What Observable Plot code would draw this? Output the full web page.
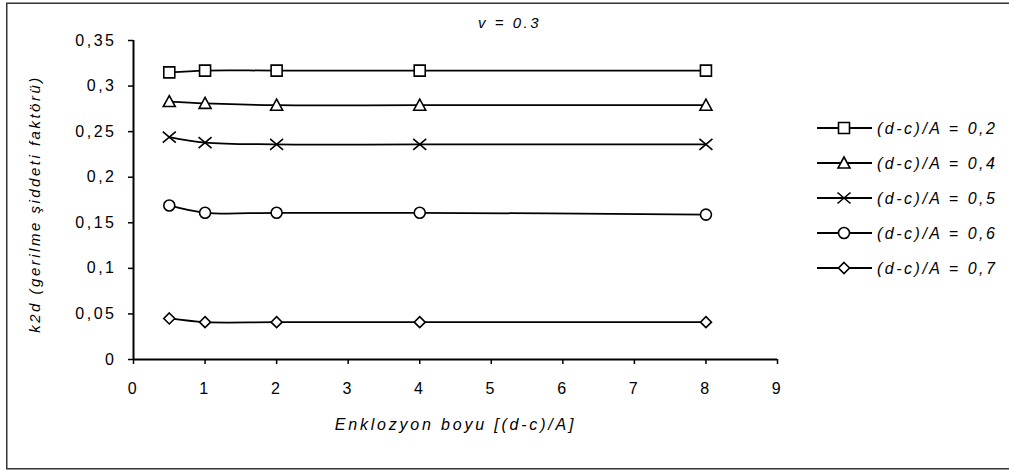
<!DOCTYPE html>
<html><head><meta charset="utf-8">
<script src="https://cdn.jsdelivr.net/npm/d3@7"></script>
<script src="https://cdn.jsdelivr.net/npm/@observablehq/plot@0.6"></script>
<style>
html,body{margin:0;padding:0;background:#fff;}
#chart{position:relative;width:1009px;height:470px;overflow:hidden;}
#chart svg text{font-family:"Liberation Sans",Arial,sans-serif;letter-spacing:2.5px;fill:#000;}
#chart svg text.wide{letter-spacing:2.8px;}
</style></head><body><div id="chart"></div>
<script>
// ---- data ----
const xValues = [0.5, 1, 2, 4, 8];
const seriesLabels = ["(d-c)/A = 0,2", "(d-c)/A = 0,4", "(d-c)/A = 0,5", "(d-c)/A = 0,6", "(d-c)/A = 0,7"];
const s02 = [0.315, 0.317, 0.317, 0.317, 0.317];
const s04 = [0.283, 0.281, 0.279, 0.279, 0.279];
const s05 = [0.244, 0.238, 0.236, 0.236, 0.236];
const s06 = [0.169, 0.161, 0.161, 0.161, 0.159];
const s07 = [0.045, 0.041, 0.041, 0.041, 0.041];
const xTicks = [0, 1, 2, 3, 4, 5, 6, 7, 8, 9];
const yTicks = [0, 0.05, 0.1, 0.15, 0.2, 0.25, 0.3, 0.35];
const titleText = "v = 0.3";
const xLabel = "Enklozyon boyu [(d-c)/A]";
const yLabel = "k2d (gerilme şiddeti faktörü)";

const seriesValues = [s02, s04, s05, s06, s07];
const rows = seriesValues.flatMap((vals, i) => vals.map((v, j) => ({series: seriesLabels[i], x: xValues[j], y: v})));

// ---- custom fixed-size marker shapes ----
const H = 5.5;
const symSquare = {draw(c){ c.moveTo(-H,-H); c.lineTo(H,-H); c.lineTo(H,H); c.lineTo(-H,H); c.closePath(); }};
const symTriangle = {draw(c){ c.moveTo(0,-6); c.lineTo(6,5); c.lineTo(-6,5); c.closePath(); }};
const symTimes = {draw(c){ c.moveTo(-6.5,-5.5); c.lineTo(6.5,5.5); c.moveTo(6.5,-5.5); c.lineTo(-6.5,5.5); }};
const symCircle = {draw(c){ c.moveTo(H,0); c.arc(0,0,H,0,2*Math.PI); c.closePath(); }};
const symDiamond = {draw(c){ c.moveTo(0,-5.5); c.lineTo(5.5,0); c.lineTo(0,5.5); c.lineTo(-5.5,0); c.closePath(); }};
const symbols = [symSquare, symTriangle, symTimes, symCircle, symDiamond];

const fmt = d => String(+d.toFixed(2)).replace(".", ",");

const chart = Plot.plot({
  width: 1009,
  height: 470,
  marginLeft: 133,
  marginRight: 232,
  marginTop: 40,
  marginBottom: 111,
  style: {background: "white", color: "black", fontFamily: "Liberation Sans, Arial, sans-serif"},
  x: {domain: [0, 9]},
  y: {domain: [0, 0.35]},
  marks: [
    Plot.axisX({ticks: xTicks, tickSize: 5, tickPadding: 18, fontSize: 16, label: null, strokeWidth: 1.5}),
    Plot.axisY({ticks: yTicks, tickFormat: fmt, tickSize: 5, tickPadding: 12, fontSize: 16, label: null, strokeWidth: 1.5}),
    Plot.ruleX([0], {stroke: "black", strokeWidth: 2}),
    Plot.ruleY([0], {stroke: "black", strokeWidth: 2}),
    Plot.line(rows, {x: "x", y: "y", z: "series", curve: "catmull-rom", stroke: "black", strokeWidth: 1.75}),
    ...seriesLabels.map((s, i) => Plot.dot(rows.filter(d => d.series === s), {x: "x", y: "y", symbol: symbols[i], r: 5, fill: i === 2 ? "none" : "white", stroke: "black", strokeWidth: 1.6})),
    Plot.text([titleText], {frameAnchor: "top", textAnchor: "middle", lineAnchor: "middle", dx: 54, dy: -17.5, fontSize: 15, fontStyle: "italic"}),
    Plot.text([xLabel], {frameAnchor: "bottom", textAnchor: "middle", lineAnchor: "middle", dx: 0, dy: 65, fontSize: 16, fontStyle: "italic", className: "xlab"}),
    Plot.text([yLabel], {frameAnchor: "left", textAnchor: "middle", lineAnchor: "middle", rotate: -90, dx: -98, dy: 4, fontSize: 15, fontStyle: "italic"})
  ]
});

document.getElementById("chart").appendChild(chart);

const svg = d3.select(chart);
svg.selectAll(".xlab text").classed("wide", true);

// ---- legend + outer border ----
const lg = svg.append("g");
const rowY0 = 128, rowStep = 35;
seriesLabels.forEach((lab, i) => {
  const y = rowY0 + i * rowStep;
  lg.append("line").attr("x1", 817).attr("x2", 872).attr("y1", y).attr("y2", y).attr("stroke", "black").attr("stroke-width", 2);
  lg.append("path").attr("transform", `translate(844,${y})`).attr("d", d3.symbol().type(symbols[i])())
    .attr("fill", i === 2 ? "none" : "white").attr("stroke", "black").attr("stroke-width", 1.6);
  lg.append("text").attr("x", 877).attr("y", y).attr("dy", "0.35em").attr("text-anchor", "start")
    .attr("font-size", 16).attr("font-style", "italic").text(lab);
});
svg.append("rect").attr("x", 6.75).attr("y", 3.25).attr("width", 1100).attr("height", 465.5)
  .attr("fill", "none").attr("stroke", "#333").attr("stroke-width", 1.5);
</script></body></html>
